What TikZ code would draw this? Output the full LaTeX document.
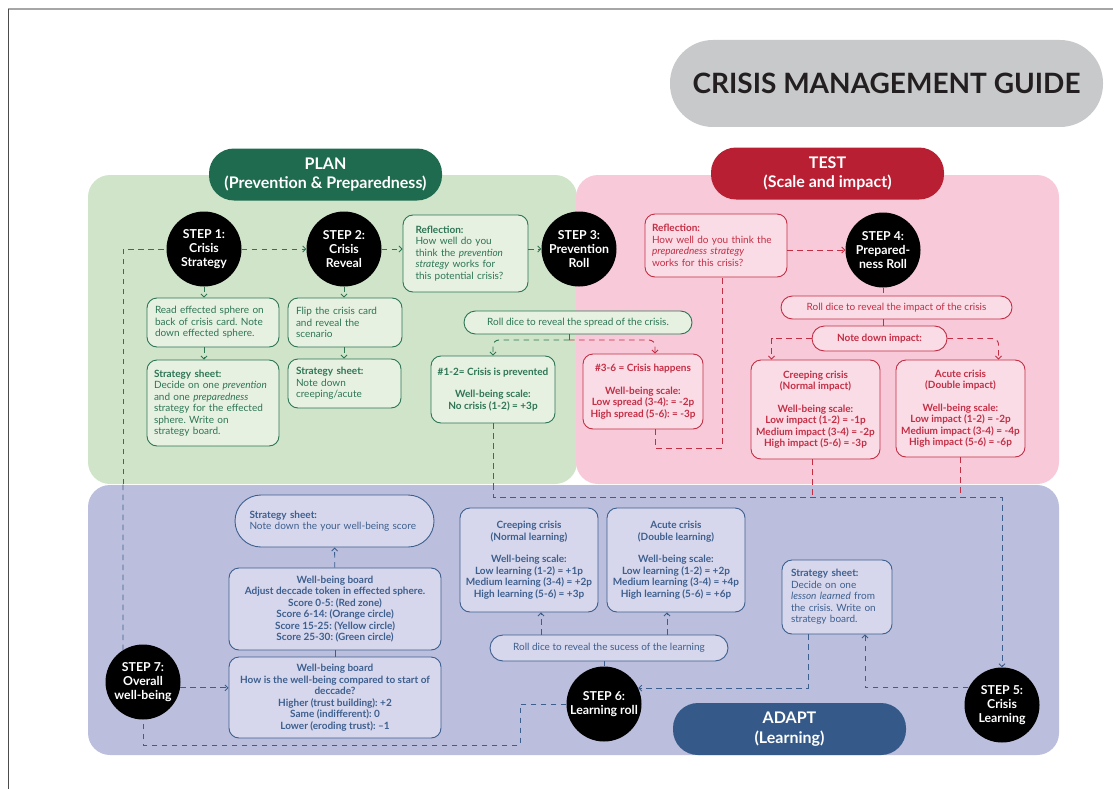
\documentclass[tikz,border=0pt]{standalone}
\usepackage{fontspec}
\setmainfont{Lato}
\usetikzlibrary{arrows.meta}
\frenchspacing

\definecolor{plandark}{HTML}{1F6B4F}
\definecolor{planline}{HTML}{2E7555}
\definecolor{planbg}{HTML}{CFE4C8}
\definecolor{planbox}{HTML}{E6F1E2}
\definecolor{testdark}{HTML}{B91F33}
\definecolor{testline}{HTML}{C42E45}
\definecolor{testbg}{HTML}{F8C9D9}
\definecolor{testbox}{HTML}{FADCE6}
\definecolor{adaptdark}{HTML}{355A89}
\definecolor{adaptline}{HTML}{3D5F8E}
\definecolor{adaptbg}{HTML}{BBBEDC}
\definecolor{adaptbox}{HTML}{D6D7EC}
\definecolor{titlegray}{HTML}{C8C9CB}
\definecolor{titletext}{HTML}{231F20}

\newcommand{\boxfont}{\fontsize{10}{11.5}\selectfont}
\newcommand{\stepfont}{\fontsize{12.3}{13.8}\selectfont\bfseries}
\newcommand{\headfont}{\fontsize{16}{19.5}\selectfont\bfseries}
\newcommand{\titlefont}{\fontsize{28}{32}\selectfont\bfseries}

\tikzset{
  panel/.style={rounded corners=22pt},
  header/.style={rounded corners=25pt, text=white, font=\headfont, align=center,
                 minimum width=233pt, minimum height=52pt},
  stepnode/.style={circle, fill=black, text=white, font=\stepfont, align=center,
                   minimum size=75pt, inner sep=0pt},
  dims/.style 2 args={minimum width=#1pt, minimum height=#2pt},
  card/.style={rounded corners=10pt, line width=0.9pt, font=\boxfont, inner sep=0pt},
  gcard/.style={card, draw=planline, fill=planbox, text=planline},
  rcard/.style={card, draw=testline, fill=testbox, text=testline},
  bcard/.style={card, draw=adaptline, fill=adaptbox, text=adaptline},
  glink/.style={draw=planline, line width=0.9pt, dash pattern=on 5.5pt off 4.5pt},
  rlink/.style={draw=testline, line width=0.9pt, dash pattern=on 5.5pt off 4.5pt},
  blink/.style={draw=adaptline, line width=0.9pt, dash pattern=on 5.5pt off 4.5pt},
  rsolid/.style={draw=testline, line width=0.9pt},
  bsolid/.style={draw=adaptline, line width=0.9pt}
}

\begin{document}
\begin{tikzpicture}[x=1pt, y=-1pt, >={Straight Barb[length=3pt,width=6pt]}]
\useasboundingbox (0,0) rectangle (1113,789);
% page frame
\draw[gray!70, line width=2pt] (8,9) -- (1113,9);
\draw[black!70, line width=0.6pt] (8,9) -- (8,789);

% the three phases
\fill[planbg, panel] (88,175) rectangle (577,484);
\fill[testbg, panel] (576,175) rectangle (1059,484);
\fill[adaptbg, panel] (88,485) rectangle (1059,755);

\node[header, fill=titlegray, text=titletext, font=\titlefont, dims={433}{87},
      rounded corners=43pt] (title) at (886.5,83.5) {CRISIS MANAGEMENT GUIDE};
\node[header, fill=plandark] (plan) at (325.5,174.5) {PLAN\\(Prevention \& Preparedness)};
\node[header, fill=testdark] (test) at (827.5,173.5) {TEST\\(Scale and impact)};
\node[header, fill=adaptdark] (adapt) at (789.5,729) {ADAPT\\(Learning)};

% steps
\node[stepnode] (S1) at (204,249) {STEP 1:\\Crisis\\Strategy};
\node[stepnode] (S2) at (344,249) {STEP 2:\\Crisis\\Reveal};
\node[stepnode] (S3) at (579,249) {STEP 3:\\Prevention\\Roll};
\node[stepnode] (S4) at (883,250) {STEP 4:\\Prepared-\\ness Roll};
\node[stepnode] (S5) at (1002,705) {STEP 5:\\Crisis\\Learning};
\node[stepnode] (S6) at (604,704) {STEP 6:\\Learning roll};
\node[stepnode] (S7) at (143,682) {STEP 7:\\Overall\\well-being};

% plan
\node[gcard, dims={132}{49}, text width=116pt, align=left] (gA) at (213,322.5)
  {Read effected sphere on\\back of crisis card. Note\\down effected sphere.};
\node[gcard, dims={132}{86}, text width=118pt, align=left] (gB) at (213,403)
  {\textbf{Strategy sheet:}\\Decide on one \textit{prevention}\\and one \textit{preparedness}\\strategy for the effected\\sphere. Write on\\strategy board.};
\node[gcard, dims={114}{49}, text width=98pt, align=left] (gC) at (345,322.5)
  {Flip the crisis card\\and reveal the\\scenario};
\node[gcard, dims={113}{49}, text width=97pt, align=left] (gD) at (344.5,383.5)
  {\textbf{Strategy sheet:}\\Note down\\creeping/acute};
\node[gcard, dims={125}{77}, text width=100pt, align=left] (gR) at (465.5,253.5)
  {\textbf{Reflection:}\\How well do you\\think the \textit{prevention}\\\textit{strategy} works for\\this potential crisis?};
\node[gcard, dims={228}{23}, rounded corners=11.5pt] (gRoll) at (578,322.5)
  {Roll dice to reveal the spread of the crisis.};
\node[gcard, dims={124}{67}, align=center, font=\boxfont\bfseries] (gPrev) at (493,389.5)
  {\#1-2= Crisis is prevented\\[11pt]Well-being scale:\\No crisis (1-2) = +3p};

% test
\node[rcard, dims={120}{75}, align=center, font=\boxfont\bfseries] (pHap) at (643,391.5)
  {\#3-6 = Crisis happens\\[11pt]Well-being scale:\\Low spread (3-4): = -2p\\High spread (5-6): = -3p};
\node[rcard, dims={142}{63}, text width=128pt, align=left] (pR) at (716,245.5)
  {\textbf{Reflection:}\\How well do you think the\\\textit{preparedness strategy}\\works for this crisis?};
\node[rcard, dims={231}{23}, rounded corners=11.5pt] (pRoll) at (896.5,307.5)
  {Roll dice to reveal the impact of the crisis};
\node[rcard, dims={135}{25}, rounded corners=12.5pt, font=\boxfont\bfseries] (pNote) at (879.5,338.5)
  {Note down impact:};
\node[rcard, dims={129}{99}, align=center, font=\boxfont\bfseries] (pCreep) at (815.5,409.5)
  {Creeping crisis\\(Normal impact)\\[11pt]Well-being scale:\\Low impact (1-2) = -1p\\Medium impact (3-4) = -2p\\High impact (5-6) = -3p};
\node[rcard, dims={129}{97}, align=center, font=\boxfont\bfseries] (pAcute) at (960.5,408.5)
  {Acute crisis\\(Double impact)\\[11pt]Well-being scale:\\Low impact (1-2) = -2p\\Medium impact (3-4) = -4p\\High impact (5-6) = -6p};

% adapt
\node[bcard, dims={199}{52}, rounded corners=26pt, text width=170pt, align=left] (bSheet) at (334.5,521)
  {\textbf{Strategy sheet:}\\Note down the your well-being score};
\node[bcard, dims={212}{82}, align=center, font=\boxfont\bfseries] (bWB1) at (335,609)
  {Well-being board\\Adjust deccade token in effected sphere.\\Score 0-5: (Red zone)\\Score 6-14: (Orange circle)\\Score 15-25: (Yellow circle)\\Score 25-30: (Green circle)};
\node[bcard, dims={212}{81}, align=center, font=\boxfont\bfseries] (bWB2) at (335,697.5)
  {Well-being board\\How is the well-being compared to start of\\deccade?\\Higher (trust building): +2\\Same (indifferent): 0\\Lower (eroding trust): --1};
\node[bcard, dims={138}{104}, align=center, font=\boxfont\bfseries] (bCreep) at (529,560)
  {Creeping crisis\\(Normal learning)\\[11pt]Well-being scale:\\Low learning (1-2) = +1p\\Medium learning (3-4) = +2p\\High learning (5-6) = +3p};
\node[bcard, dims={138}{104}, align=center, font=\boxfont\bfseries] (bAcute) at (676,560)
  {Acute crisis\\(Double learning)\\[11pt]Well-being scale:\\Low learning (1-2) = +2p\\Medium learning (3-4) = +4p\\High learning (5-6) = +6p};
\node[bcard, dims={238}{26}, rounded corners=13pt] (bRoll) at (609,648)
  {Roll dice to reveal the sucess of the learning};
\node[bcard, dims={110}{74}, text width=92pt, align=left] (bSheet2) at (837,597)
  {\textbf{Strategy sheet:}\\Decide on one\\\textit{lesson learned} from\\the crisis. Write on\\strategy board.};

% plan links
\draw[glink,->] (S1) -- (S2);
\draw[glink,->] (S2) -- (S2 -| gR.west);
\draw[glink,->] (S3 -| gR.east) -- (S3);
\draw[glink,->] (S1) -- (S1 |- gA.north);
\draw[glink,->] (gA.south -| S1) -- (gB.north -| S1);
\draw[glink,->] (S2) -- (S2 |- gC.north);
\draw[glink,->] (gC.south -| S2) -- (gD.north -| S2);
\coordinate (k1) at (123,484);
\draw[blink] (S7.122) -- (k1);
\draw[glink] (k1) |- (S1);
\coordinate (k2) at (569,340);
\draw[glink,->,rounded corners=6pt] (k2) -| (gPrev.north);
\draw[rlink] (k2 |- gRoll.south) -- (k2);
\draw[rlink,->,rounded corners=6pt] (k2) -| ([xshift=12pt]pHap.north);
\coordinate (k3) at (493,484);
\draw[glink] (gPrev.south) -- (k3);

% test links
\coordinate (k5) at (1002,497);
\draw[blink,->] (k3) |- (k5) -- (S5);
\draw[rlink] ([xshift=-3pt]pCreep.south) -- ([xshift=-3pt]pCreep.south |- k5);
\draw[rlink] (pAcute.south) -- (pAcute.south |- k5);
\coordinate (k6) at (722,448);
\draw[rlink] ([xshift=12pt]pHap.south) |- (k6) -- (k6 |- pR.south);
\draw[rlink,->] (S4 -| pR.east) -- (S4);
\draw[rlink] (S4) -- (S4 |- pRoll.north);
\draw[rsolid] (pRoll.south -| S4) -- (pNote.north -| S4);
\draw[rlink,->] (pNote.west) -| ([xshift=-44pt]pCreep.north);
\draw[rlink,->,rounded corners=6pt] (pNote.east) -| ([xshift=38pt]pAcute.north);

% adapt links
\draw[blink,->] (S5.153) -| ([xshift=28pt]bSheet2.south);
\draw[blink,->] ([xshift=-29pt]bSheet2.south) |- (S6.25);
\draw[bsolid] (S6) -- (S6 |- bRoll.south);
\coordinate (k7) at ([xshift=12pt]bCreep.south);
\coordinate (k8) at ([xshift=-9pt]bAcute.south);
\draw[blink,->] (k7 |- bRoll.north) -- (k7);
\draw[blink,->] (k8 |- bRoll.north) -- (k8);
\coordinate (k9) at (520,745);
\draw[blink] (S6) -| (k9) -| (S7);
\draw[blink,->] (S7.351) -- (S7.351 -| bWB2.west);
\draw[bsolid] (bWB2) -- (bWB1);
\draw[blink,->] (bWB1) -- (bSheet);
\end{tikzpicture}
\end{document}
